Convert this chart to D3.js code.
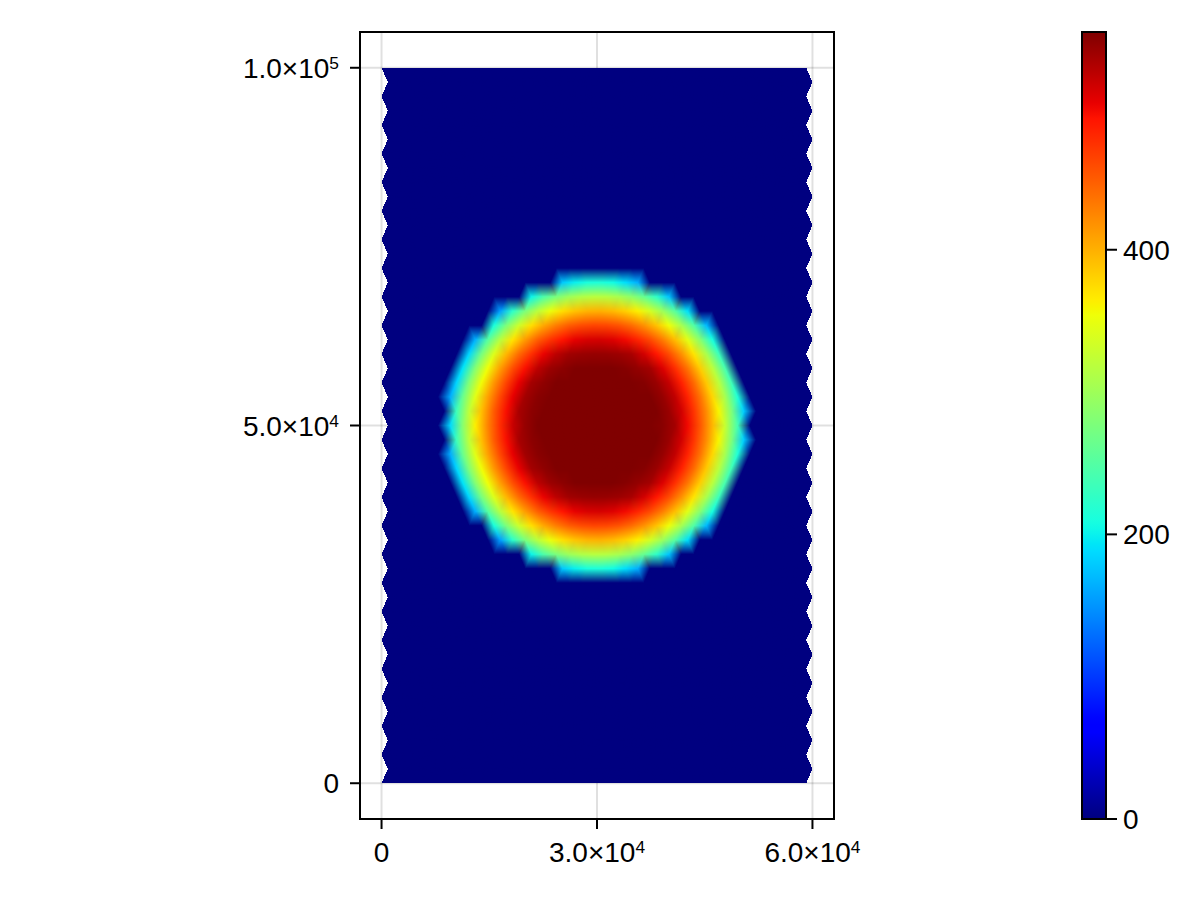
<!DOCTYPE html>
<html>
<head>
<meta charset="utf-8">
<script src="https://cdn.jsdelivr.net/npm/d3@7"></script>
<style>
  body { margin: 0; background: #fff; }
  svg text { font-family: "Liberation Sans", Arial, Helvetica, sans-serif; fill: #000; }
</style>
</head>
<body>
<svg id="chart" width="1200" height="900"></svg>
<script>
// axis ticks and labels (mantissa, exponent)
const xTicks = [0, 30000, 60000];
const xTickLabels = [['0', ''], ['3.0×10', '4'], ['6.0×10', '4']];
const yTicks = [0, 50000, 100000];
const yTickLabels = [['0', ''], ['5.0×10', '4'], ['1.0×10', '5']];
const xLimits = [-3000, 63000];
const yLimits = [-5000, 105000];

// colorbar
const colorLimits = [0, 553];
const cbTicks = [0, 200, 400];
const cbTickLabels = ['0', '200', '400'];

// mesh layout: rows of nodes, every other row shifted by half a step
const meshWidth = 60000;
const meshRowStep = 2000;
const meshRowCount = 50;
const meshColCount = 34;
const fieldCenter = [30000, 50000];

// radial profile of the field
const profileRadius = [0, 8500, 11000, 13000, 14500, 16000, 17300, 18500, 19500, 20300, 21000];
const profileValue = [553, 553, 535, 490, 450, 400, 350, 295, 245, 195, 150];
const cutoffRadius = 21000;

// jet colormap channels
const jetR = d3.scaleLinear().domain([0, 0.35, 0.66, 0.89, 1]).range([0, 0, 1, 1, 0.5]).clamp(true);
const jetG = d3.scaleLinear().domain([0, 0.125, 0.375, 0.64, 0.91, 1]).range([0, 0, 1, 1, 0, 0]).clamp(true);
const jetB = d3.scaleLinear().domain([0, 0.11, 0.34, 0.65, 1]).range([0.5, 1, 1, 0, 0]).clamp(true);

const margin = { left: 360, top: 32, right: 834, bottom: 819 };
const fontSize = 28;

const svg = d3.select('#chart');

const x = d3.scaleLinear().domain(xLimits).range([margin.left, margin.right]);
const y = d3.scaleLinear().domain(yLimits).range([margin.bottom, margin.top]);
const norm = d3.scaleLinear().domain(colorLimits).range([0, 1]).clamp(true);
const profile = d3.scaleLinear().domain(profileRadius).range(profileValue).clamp(true);

function jet(t) {
  return [jetR(t) * 255, jetG(t) * 255, jetB(t) * 255];
}

// grid
svg.append('g')
  .selectAll('line')
  .data(xTicks)
  .enter()
  .append('line')
  .attr('x1', (d) => x(d)).attr('x2', (d) => x(d))
  .attr('y1', margin.top).attr('y2', margin.bottom)
  .attr('stroke', 'rgba(0,0,0,0.12)').attr('stroke-width', 2);
svg.append('g')
  .selectAll('line')
  .data(yTicks)
  .enter()
  .append('line')
  .attr('y1', (d) => y(d)).attr('y2', (d) => y(d))
  .attr('x1', margin.left).attr('x2', margin.right)
  .attr('stroke', 'rgba(0,0,0,0.12)').attr('stroke-width', 2);

// build mesh nodes, colour each node
const colStep = meshWidth / (meshColCount + 0.5);
const rows = d3.range(meshRowCount + 1).map((j) => {
  const offset = j % 2 === 0 ? 0 : colStep / 2;
  return d3.range(meshColCount + 1).map((i) => {
    const nx = offset + i * colStep;
    const ny = j * meshRowStep;
    const r = Math.hypot(nx - fieldCenter[0], ny - fieldCenter[1]);
    const v = r <= cutoffRadius ? profile(r) : 0;
    return { x: nx, y: ny, c: jet(norm(v)) };
  });
});

const triangles = [];
for (let j = 0; j < meshRowCount; j++) {
  const a = j % 2 === 0 ? rows[j] : rows[j + 1];
  const b = j % 2 === 0 ? rows[j + 1] : rows[j];
  for (let i = 0; i < meshColCount; i++) {
    triangles.push([a[i], a[i + 1], b[i]]);
    triangles.push([b[i], b[i + 1], a[i + 1]]);
  }
}

// rasterize the mesh, vertex colours blended across each triangle
const pw = margin.right - margin.left;
const ph = margin.bottom - margin.top;
const canvas = document.createElement('canvas');
canvas.width = pw;
canvas.height = ph;
const ctx = canvas.getContext('2d');
const img = ctx.createImageData(pw, ph);

triangles.forEach((t) => {
  const p = t.map((n) => [x(n.x) - margin.left, y(n.y) - margin.top]);
  const [x0, y0] = p[0];
  const [x1, y1] = p[1];
  const [x2, y2] = p[2];
  const c0 = t[0].c, c1 = t[1].c, c2 = t[2].c;
  const den = (y1 - y2) * (x0 - x2) + (x2 - x1) * (y0 - y2);
  const minX = Math.max(0, Math.floor(Math.min(x0, x1, x2)));
  const maxX = Math.min(pw - 1, Math.ceil(Math.max(x0, x1, x2)));
  const minY = Math.max(0, Math.floor(Math.min(y0, y1, y2)));
  const maxY = Math.min(ph - 1, Math.ceil(Math.max(y0, y1, y2)));
  for (let py = minY; py <= maxY; py++) {
    for (let px = minX; px <= maxX; px++) {
      const cx = px + 0.5, cy = py + 0.5;
      const w0 = ((y1 - y2) * (cx - x2) + (x2 - x1) * (cy - y2)) / den;
      const w1 = ((y2 - y0) * (cx - x2) + (x0 - x2) * (cy - y2)) / den;
      const w2 = 1 - w0 - w1;
      if (w0 < -1e-6 || w1 < -1e-6 || w2 < -1e-6) continue;
      const k = (py * pw + px) * 4;
      for (let ch = 0; ch < 3; ch++) {
        img.data[k + ch] = Math.round(w0 * c0[ch] + w1 * c1[ch] + w2 * c2[ch]);
      }
      img.data[k + 3] = 255;
    }
  }
});
ctx.putImageData(img, 0, 0);

svg.append('image')
  .attr('x', margin.left)
  .attr('y', margin.top)
  .attr('width', pw)
  .attr('height', ph)
  .attr('href', canvas.toDataURL());

// frame
svg.append('rect')
  .attr('x', margin.left).attr('y', margin.top)
  .attr('width', pw).attr('height', ph)
  .attr('fill', 'none').attr('stroke', '#000').attr('stroke-width', 2);

// ticks
svg.append('g')
  .selectAll('line')
  .data(xTicks)
  .enter()
  .append('line')
  .attr('x1', (d) => x(d)).attr('x2', (d) => x(d))
  .attr('y1', margin.bottom).attr('y2', margin.bottom + 10)
  .attr('stroke', '#000').attr('stroke-width', 2);
svg.append('g')
  .selectAll('line')
  .data(yTicks)
  .enter()
  .append('line')
  .attr('y1', (d) => y(d)).attr('y2', (d) => y(d))
  .attr('x1', margin.left - 10).attr('x2', margin.left)
  .attr('stroke', '#000').attr('stroke-width', 2);

function sciLabel(sel, parts) {
  sel.append('tspan').text(parts[0]);
  if (parts[1]) {
    sel.append('tspan')
      .attr('dy', -9)
      .attr('font-size', fontSize * 0.62)
      .text(parts[1]);
  }
}

xTicks.forEach((d, i) => {
  svg.append('text')
    .attr('x', x(d))
    .attr('y', margin.bottom + 43)
    .attr('text-anchor', 'middle')
    .attr('font-size', fontSize)
    .call(sciLabel, xTickLabels[i]);
});
yTicks.forEach((d, i) => {
  svg.append('text')
    .attr('x', margin.left - 21)
    .attr('y', y(d) + 10)
    .attr('text-anchor', 'end')
    .attr('font-size', fontSize)
    .call(sciLabel, yTickLabels[i]);
});

// colorbar
const cb = { left: 1082, right: 1106 };
const cbY = d3.scaleLinear().domain(colorLimits).range([margin.bottom, margin.top]);
const grad = svg.append('defs').append('linearGradient')
  .attr('id', 'jetGrad')
  .attr('x1', 0).attr('y1', '100%').attr('x2', 0).attr('y2', '0%');
grad.selectAll('stop')
  .data(d3.range(0, 1.0001, 0.01))
  .enter()
  .append('stop')
  .attr('offset', (d) => d * 100 + '%')
  .attr('stop-color', (d) => d3.rgb(...jet(d)).formatHex());

svg.append('rect')
  .attr('x', cb.left).attr('y', margin.top)
  .attr('width', cb.right - cb.left).attr('height', ph)
  .attr('fill', 'url(#jetGrad)')
  .attr('stroke', '#000').attr('stroke-width', 2);

svg.append('g')
  .selectAll('line')
  .data(cbTicks)
  .enter()
  .append('line')
  .attr('x1', cb.right).attr('x2', cb.right + 11)
  .attr('y1', (d) => cbY(d)).attr('y2', (d) => cbY(d))
  .attr('stroke', '#000').attr('stroke-width', 2);

svg.append('g')
  .selectAll('text')
  .data(cbTicks)
  .enter()
  .append('text')
  .attr('x', cb.right + 17)
  .attr('y', (d) => cbY(d) + 10)
  .attr('font-size', fontSize)
  .text((d, i) => cbTickLabels[i]);
</script>
</body>
</html>
